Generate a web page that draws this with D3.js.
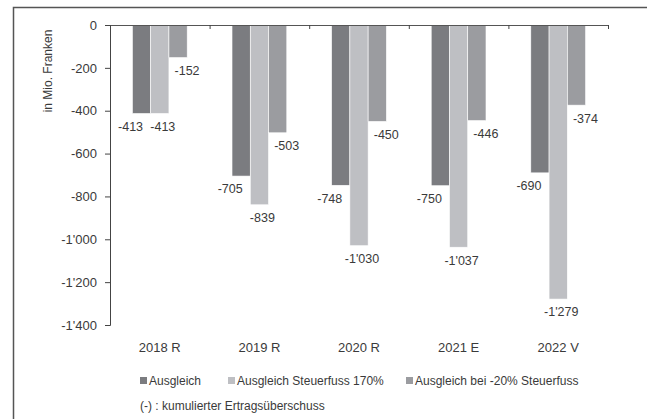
<!DOCTYPE html>
<html>
<head>
<meta charset="utf-8">
<script src="https://cdn.jsdelivr.net/npm/d3@7"></script>
<style>
  body { margin: 0; background: #fff; }
  text { font-family: "Liberation Sans", Arial, sans-serif; fill: #3a3a3a; }
</style>
</head>
<body>
<div id="chart"></div>
<script>
// ========== Data ==========
const categories = ["2018 R", "2019 R", "2020 R", "2021 E", "2022 V"];
const seriesNames = ["Ausgleich", "Ausgleich Steuerfuss 170%", "Ausgleich bei -20% Steuerfuss"];
const ausgleich = [-413, -705, -748, -750, -690];
const steuerfuss170 = [-413, -839, -1030, -1037, -1279];
const minus20 = [-152, -503, -450, -446, -374];
const yTicks = [0, -200, -400, -600, -800, -1000, -1200, -1400];
const footnote = "(-) : kumulierter Ertragsüberschuss";

const colors = ["#7b7c80", "#bebfc3", "#9b9ca0"];
const labelDx = [-11, 3, 9];   // Excel labels were nudged by hand

// ========== Chart ==========
const width = 647, height = 419;
const margin = { top: 25, left: 110, right: 39, bottom: 94 };

const svg = d3.select("#chart").append("svg")
    .attr("width", width)
    .attr("height", height);

// outer frame (left + top only)
svg.append("path")
    .attr("d", `M13.5,${height} V7.5 H${width}`)
    .attr("fill", "none")
    .attr("stroke", "#555")
    .attr("stroke-width", 1.5);

const x0 = d3.scaleBand()
    .domain(categories)
    .range([margin.left, width - margin.right])
    .paddingInner(0.45)
    .paddingOuter(0.225);

const x1 = d3.scaleBand()
    .domain(d3.range(seriesNames.length))
    .range([0, x0.bandwidth()]);

const y = d3.scaleLinear()
    .domain([0, -1400])
    .range([margin.top, height - margin.bottom]);

const fmt = v => d3.format(",")(v).replace(/,/g, "'").replace("−", "-");

const series = [ausgleich, steuerfuss170, minus20];
const rows = categories.map((c, i) => ({ cat: c, vals: series.map(s => s[i]) }));

// Bars
const groups = svg.selectAll(".grp")
    .data(rows)
    .enter().append("g")
    .attr("transform", d => `translate(${x0(d.cat)},0)`);

groups.selectAll("rect")
    .data(d => d.vals.map((v, k) => ({ v, k })))
    .enter().append("rect")
    .attr("x", d => x1(d.k))
    .attr("y", y(0))
    .attr("width", x1.bandwidth())
    .attr("height", d => y(d.v) - y(0))
    .attr("fill", d => colors[d.k])
    .attr("stroke", "#fff")
    .attr("stroke-width", 0.6);

groups.selectAll(".lbl")
    .data(d => d.vals.map((v, k) => ({ v, k })))
    .enter().append("text")
    .attr("class", "lbl")
    .attr("x", d => x1(d.k) + x1.bandwidth() / 2 + labelDx[d.k])
    .attr("y", d => y(d.v) + 13)
    .attr("dy", "0.35em")
    .attr("text-anchor", "middle")
    .attr("font-size", 12.5)
    .text(d => fmt(d.v));

// Y axis
const yAxis = svg.append("g")
    .attr("transform", `translate(${margin.left},0)`)
    .call(d3.axisLeft(y).tickValues(yTicks).tickFormat(fmt).tickSize(5).tickPadding(8));
yAxis.select(".domain").attr("stroke", "#444");
yAxis.selectAll(".tick line").attr("stroke", "#444");
yAxis.selectAll("text").attr("font-size", 13).attr("fill", "#3a3a3a")
    .style("font-family", "'Liberation Sans', Arial, sans-serif");

// X axis line at zero with ticks at category boundaries
const step = x0.step();
const start = x0.range()[0];
const bounds = d3.range(categories.length + 1).map(i => start + i * step);
svg.append("line")
    .attr("x1", start).attr("x2", bounds[bounds.length - 1])
    .attr("y1", y(0) + 0.5).attr("y2", y(0) + 0.5)
    .attr("stroke", "#555");
svg.selectAll(".xt")
    .data(bounds)
    .enter().append("line")
    .attr("x1", d => d + 0.5).attr("x2", d => d + 0.5)
    .attr("y1", y(0)).attr("y2", y(0) + 4)
    .attr("stroke", "#444");

// Category labels
svg.selectAll(".cat")
    .data(categories)
    .enter().append("text")
    .attr("x", d => x0(d) + x0.bandwidth() / 2)
    .attr("y", 352)
    .attr("text-anchor", "middle")
    .attr("font-size", 13)
    .text(d => d);

// Y axis title
svg.append("text")
    .attr("transform", "translate(52,71) rotate(-90)")
    .attr("text-anchor", "middle")
    .attr("font-size", 12)
    .text("in Mio. Franken");

// Legend
const legendX = [140, 228, 406];
const legend = svg.selectAll(".leg")
    .data(seriesNames)
    .enter().append("g")
    .attr("transform", (d, i) => `translate(${legendX[i]},381)`);
legend.append("rect")
    .attr("x", 0).attr("y", -4)
    .attr("width", 7).attr("height", 7)
    .attr("fill", (d, i) => colors[i]);
legend.append("text")
    .attr("x", 9)
    .attr("dy", "0.35em")
    .attr("font-size", 12)
    .text(d => d);

svg.append("text")
    .attr("x", 140)
    .attr("y", 410)
    .attr("font-size", 12)
    .text(footnote);
</script>
</body>
</html>
